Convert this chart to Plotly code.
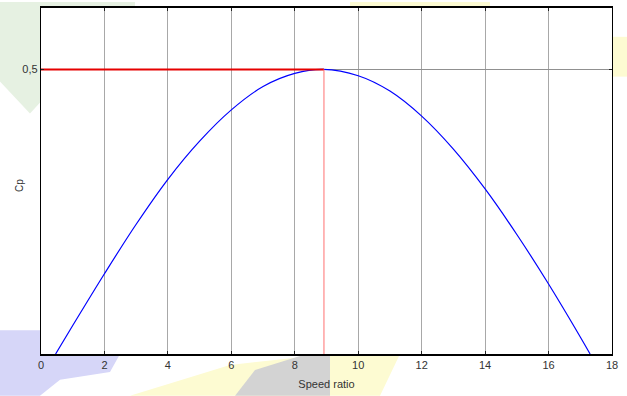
import plotly.graph_objects as go

# Data
speed_ratio = [0.46, 1, 2, 3, 4, 5, 6, 7, 8, 8.9, 10, 11, 12, 13, 14, 15, 16, 17, 17.31]
cp_values = [0.0, 0.050, 0.141, 0.228, 0.307, 0.374, 0.429, 0.470, 0.493, 0.500,
             0.489, 0.462, 0.418, 0.360, 0.290, 0.210, 0.123, 0.030, 0.0]
opt_ratio = 8.92
cp_max = 0.5
x_ticks = [0, 2, 4, 6, 8, 10, 12, 14, 16, 18]
y_ticks = [0.5]
y_tick_text = ["0,5"]

W, H = 627, 396
L, R, T, B = 41, 15, 6, 42
pw, ph = W - L - R, H - T - B


def px(xp, yp):
    return ((xp - L) / pw, (H - B - yp) / ph)


def poly(points, color):
    pts = [px(a, b) for a, b in points]
    path = "M " + " L ".join(f"{a:.4f},{b:.4f}" for a, b in pts) + " Z"
    return dict(type="path", path=path, xref="paper", yref="paper",
                fillcolor=color, line=dict(width=0), layer="below")


shapes = [
    poly([(0, 0), (135, 0), (135, 6), (41, 6), (41, 100), (30, 112), (0, 80)], "#e6f1e2"),
    poly([(350, 0), (490, 0), (490, 6), (350, 6)], "#fdfbd2"),
    poly([(612, 35), (627, 35), (627, 75), (612, 75)], "#fdfbd2"),
    poly([(0, 330), (41, 330), (41, 354), (120, 354), (110, 372), (60, 380), (40, 396), (0, 396)], "#d6d6f8"),
    poly([(130, 396), (230, 365), (330, 354), (400, 354), (380, 396)], "#fdfbd2"),
    poly([(235, 396), (255, 370), (300, 356), (330, 356), (330, 396)], "#d3d3d3"),
    dict(type="rect", xref="paper", yref="paper", x0=0, x1=1, y0=0, y1=1,
         fillcolor="white", line=dict(width=0), layer="below"),
]

fig = go.Figure()
fig.add_trace(go.Scatter(x=speed_ratio, y=cp_values, mode="lines",
                         line=dict(color="#0000ff", width=1.2, shape="spline", smoothing=1.0),
                         showlegend=False))
fig.add_trace(go.Scatter(x=[0, opt_ratio], y=[cp_max, cp_max], mode="lines",
                         line=dict(color="#e60000", width=2), showlegend=False))
fig.add_trace(go.Scatter(x=[opt_ratio, opt_ratio], y=[cp_max, 0], mode="lines",
                         line=dict(color="#ff7070", width=1), showlegend=False))

font_family = "Liberation Sans Narrow, Liberation Sans, Arial"
cpx, cpy = px(20, 185)
fig.update_layout(
    width=W, height=H,
    margin=dict(l=L, r=R, t=T, b=B),
    paper_bgcolor="white", plot_bgcolor="white",
    shapes=shapes,
    font=dict(family=font_family, size=10, color="#333333"),
    xaxis=dict(range=[0, 18], tickvals=x_ticks, ticks="inside", ticklen=3,
               tickcolor="#222", showline=True, linecolor="black", linewidth=1.6,
               mirror="ticks", showgrid=True, gridcolor="#a8a8a8", gridwidth=1,
               zeroline=False, tickfont=dict(size=11),
               title=dict(text="Speed ratio", font=dict(size=11), standoff=10)),
    yaxis=dict(range=[0, 0.608], tickvals=y_ticks, ticktext=y_tick_text,
               ticks="inside", ticklen=3, tickcolor="#222", showline=True,
               linecolor="black", linewidth=1.4, mirror="ticks", showgrid=True,
               gridcolor="#909090", gridwidth=1, zeroline=False,
               tickfont=dict(size=11)),
    annotations=[dict(text="Cp", xref="paper", yref="paper", x=cpx, y=cpy,
                      textangle=-90, showarrow=False, font=dict(size=10),
                      xanchor="center", yanchor="middle")],
)

fig.write_html("out.html", config={"displayModeBar": False},
               post_script="document.body.style.margin='0';document.body.style.padding='0';")
